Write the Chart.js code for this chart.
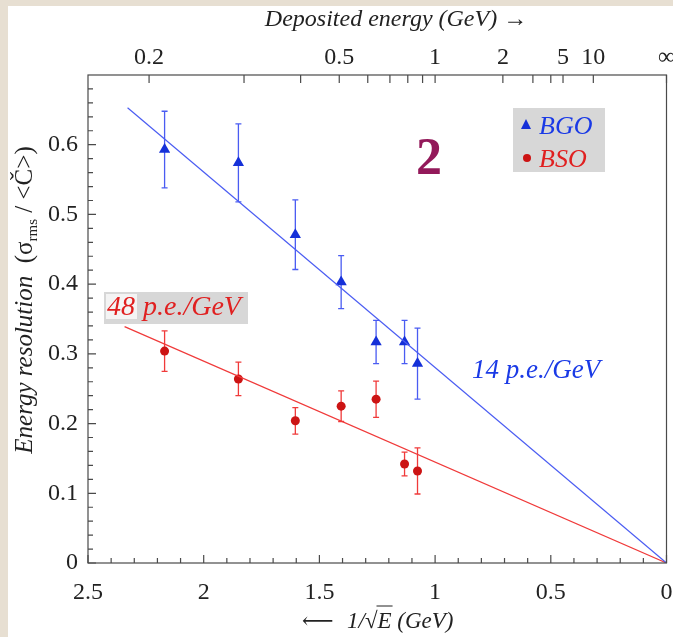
<!DOCTYPE html>
<html>
<head>
<meta charset="utf-8">
<script src="https://cdn.jsdelivr.net/npm/chart.js@4.4.1/dist/chart.umd.min.js"></script>
<style>
  html, body { margin: 0; padding: 0; background: #e7dfd2; }
  #wrap { position: absolute; left: 0; top: 0; width: 673px; height: 637px; }
</style>
</head>
<body>
<div id="wrap"><canvas id="c" width="673" height="637"></canvas></div>
<script>
// ---- data ----
const invSqrtE   = [2.169, 1.850, 1.604, 1.406, 1.255, 1.132, 1.076];   // 1/sqrt(E)
const bgoValues  = [0.593, 0.574, 0.471, 0.403, 0.317, 0.317, 0.286];
const bgoErrors  = [0.055, 0.056, 0.050, 0.038, 0.031, 0.031, 0.051];
const bsoValues  = [0.304, 0.264, 0.204, 0.225, 0.235, 0.142, 0.132];
const bsoErrors  = [0.029, 0.024, 0.019, 0.022, 0.026, 0.017, 0.033];
const bgoFitX    = [2.329, 0];
const bgoFitY    = [0.653, 0];
const bsoFitX    = [2.342, 0];
const bsoFitY    = [0.339, 0];
const topLabelE  = [0.2, 0.5, 1, 2, 5, 10, Infinity];
const topLabels  = ['0.2', '0.5', '1', '2', '5', '10', '\u221E'];
const topMinorE  = [0.3, 0.4, 0.6, 0.7, 0.8, 0.9, 3, 4];
const yTickVals  = [0, 0.1, 0.2, 0.3, 0.4, 0.5, 0.6];

const SERIF = '"Liberation Serif", "DejaVu Serif", serif';
const BLUE = '#1530d8', BLUE_L = '#4a5cf2', RED = '#cc1414', RED_L = '#f03a3a';

const toPts = (xs, ys) => xs.map((x, i) => ({ x: x, y: ys[i] }));
const eToX = e => (e === Infinity ? 0 : 1 / Math.sqrt(e));
const noPad = s => { s.paddingLeft = 0; s.paddingRight = 0; s.paddingTop = 0; s.paddingBottom = 0; };

const decor = {
  id: 'decor',
  beforeDraw(chart) {
    const ctx = chart.ctx;
    ctx.save();
    ctx.fillStyle = '#e7dfd2';
    ctx.fillRect(0, 0, chart.width, chart.height);
    ctx.fillStyle = '#ffffff';
    ctx.fillRect(8, 6, chart.width - 8, chart.height - 6);
    ctx.restore();
  },
  beforeDatasetsDraw(chart) {
    const ctx = chart.ctx, xs = chart.scales.x, ys = chart.scales.y;
    ctx.save();
    const bars = [[bgoValues, bgoErrors, BLUE_L], [bsoValues, bsoErrors, RED_L]];
    bars.forEach(([vals, errs, col]) => {
      ctx.strokeStyle = col; ctx.lineWidth = 1.3;
      vals.forEach((v, i) => {
        const px = xs.getPixelForValue(invSqrtE[i]);
        const y1 = ys.getPixelForValue(v + errs[i]);
        const y2 = ys.getPixelForValue(v - errs[i]);
        ctx.beginPath();
        ctx.moveTo(px, y1); ctx.lineTo(px, y2);
        ctx.moveTo(px - 3, y1); ctx.lineTo(px + 3, y1);
        ctx.moveTo(px - 3, y2); ctx.lineTo(px + 3, y2);
        ctx.stroke();
      });
    });
    ctx.restore();
  },
  afterDraw(chart) {
    const ctx = chart.ctx, a = chart.chartArea;
    const xs = chart.scales.x, ys = chart.scales.y;
    ctx.save();
    // frame
    ctx.strokeStyle = '#4a4a4a'; ctx.lineWidth = 1.2;
    ctx.strokeRect(a.left, a.top, a.right - a.left, a.bottom - a.top);
    ctx.beginPath();
    for (let k = 0; k <= 25; k++) {
      const px = xs.getPixelForValue(k / 10);
      const len = (k % 5 === 0) ? 8 : 5;
      ctx.moveTo(px, a.bottom); ctx.lineTo(px, a.bottom - len);
    }
    for (let k = 0; k <= 35; k++) {
      const py = ys.getPixelForValue(k * 0.02);
      if (py < a.top) continue;
      const len = (k % 5 === 0) ? 8 : 5;
      ctx.moveTo(a.left, py); ctx.lineTo(a.left + len, py);
    }
    topLabelE.concat(topMinorE).forEach(e => {
      const px = xs.getPixelForValue(eToX(e));
      ctx.moveTo(px, a.top); ctx.lineTo(px, a.top + 8);
    });
    ctx.stroke();

    // axis titles
    ctx.fillStyle = '#222';
    ctx.textBaseline = 'alphabetic';
    ctx.font = 'italic 24px ' + SERIF;
    ctx.textAlign = 'center';
    ctx.fillText('Deposited energy (GeV) \u2192', 396, 26);

    // bottom title with radical overbar
    ctx.textAlign = 'left';
    ctx.font = '22px "DejaVu Serif", serif';
    ctx.fillText('\u27F5', 302, 628);
    ctx.font = 'italic 23px ' + SERIF;
    const bx = 347;
    const s1 = '1/\u221A', s2 = 'E', s3 = ' (GeV)';
    ctx.fillText(s1, bx, 628);
    const w1 = ctx.measureText(s1).width;
    ctx.fillText(s2, bx + w1, 628);
    const w2 = ctx.measureText(s2).width;
    ctx.beginPath(); ctx.lineWidth = 1;
    ctx.moveTo(bx + w1 - 1, 606); ctx.lineTo(bx + w1 + w2 + 1, 606);
    ctx.strokeStyle = '#222'; ctx.stroke();
    ctx.fillText(s3, bx + w1 + w2, 628);

    // y title (rotated)
    ctx.save();
    ctx.translate(32, 300);
    ctx.rotate(-Math.PI / 2);
    const parts = [
      ['italic 25px ' + SERIF, 'Energy resolution', 0],
      ['25px ' + SERIF, '  (\u03C3', 0],
      ['15px ' + SERIF, 'rms', 5],
      ['25px ' + SERIF, ' / <\u010C>)', 0]
    ];
    let total = 0;
    parts.forEach(p => { ctx.font = p[0]; total += ctx.measureText(p[1]).width; });
    let cx = -total / 2;
    parts.forEach(p => { ctx.font = p[0]; ctx.fillText(p[1], cx, p[2]); cx += ctx.measureText(p[1]).width; });
    ctx.restore();

    // big "2"
    ctx.fillStyle = '#93195a';
    ctx.font = 'bold 52px ' + SERIF;
    ctx.textAlign = 'left';
    ctx.fillText('2', 416, 174);

    // legend box
    ctx.fillStyle = '#d7d7d7';
    ctx.fillRect(513, 108, 92, 64);
    ctx.fillStyle = BLUE;
    ctx.beginPath();
    ctx.moveTo(526, 119); ctx.lineTo(531, 129); ctx.lineTo(521, 129); ctx.closePath(); ctx.fill();
    ctx.fillStyle = RED;
    ctx.beginPath(); ctx.arc(527, 158, 4, 0, Math.PI * 2); ctx.fill();
    ctx.font = 'italic 26px ' + SERIF;
    ctx.fillStyle = '#1a3ae6'; ctx.fillText('BGO', 539, 134);
    ctx.fillStyle = '#e02020'; ctx.fillText('BSO', 539, 167);

    // 48 p.e./GeV label
    ctx.fillStyle = '#d7d7d7';
    ctx.fillRect(104, 292, 144, 32);
    ctx.fillStyle = '#f4f4f4';
    ctx.fillRect(106, 294, 31, 25);
    ctx.fillStyle = '#e02020';
    ctx.font = 'italic 28px ' + SERIF;
    ctx.fillText('48', 107, 315);
    ctx.fillText('p.e./GeV', 143, 315);

    // 14 p.e./GeV label
    ctx.fillStyle = '#1a3ae6';
    ctx.font = 'italic 27px ' + SERIF;
    ctx.fillText('14 p.e./GeV', 472, 378);
    ctx.restore();
  }
};

new Chart(document.getElementById('c'), {
  type: 'scatter',
  data: {
    datasets: [
      { type: 'line', label: 'BGO fit', data: toPts(bgoFitX, bgoFitY), borderColor: BLUE_L, borderWidth: 1.2, pointRadius: 0, fill: false },
      { type: 'line', label: 'BSO fit', data: toPts(bsoFitX, bsoFitY), borderColor: RED_L, borderWidth: 1.2, pointRadius: 0, fill: false },
      { label: 'BGO', data: toPts(invSqrtE, bgoValues), pointStyle: 'triangle', pointRadius: 6.5, backgroundColor: BLUE, borderColor: BLUE, borderWidth: 0 },
      { label: 'BSO', data: toPts(invSqrtE, bsoValues), pointStyle: 'circle', pointRadius: 4.5, backgroundColor: RED, borderColor: RED, borderWidth: 0 }
    ]
  },
  options: {
    responsive: false,
    animation: false,
    devicePixelRatio: 1,
    layout: { padding: { left: 0, right: 5, top: 0, bottom: 0 } },
    plugins: { legend: { display: false }, tooltip: { enabled: false } },
    scales: {
      x: {
        type: 'linear', position: 'bottom', reverse: true, min: 0, max: 2.5,
        afterFit: s => { s.height = 74; noPad(s); },
        grid: { display: false, drawTicks: false }, border: { display: false },
        ticks: { stepSize: 0.5, color: '#222', padding: 15, maxRotation: 0,
                 font: { family: SERIF, size: 24 },
                 callback: v => String(+v.toFixed(1)) }
      },
      x2: {
        type: 'linear', position: 'top', reverse: true, min: 0, max: 2.5,
        afterFit: s => { s.height = 75; noPad(s); },
        afterBuildTicks: s => { s.ticks = topLabelE.map(e => ({ value: eToX(e) })); },
        grid: { display: false, drawTicks: false }, border: { display: false },
        ticks: { autoSkip: false, maxRotation: 0, color: '#222', padding: 3,
                 font: { family: SERIF, size: 24 },
                 callback: (v, i) => topLabels[i] }
      },
      y: {
        type: 'linear', min: 0, max: 0.7,
        afterFit: s => { s.width = 88; noPad(s); },
        afterBuildTicks: s => { s.ticks = yTickVals.map(v => ({ value: v })); },
        grid: { display: false, drawTicks: false }, border: { display: false },
        ticks: { color: '#222', padding: 10, font: { family: SERIF, size: 24 },
                 callback: v => (v === 0 ? '0' : v.toFixed(1)) }
      }
    }
  },
  plugins: [decor]
});
</script>
</body>
</html>
